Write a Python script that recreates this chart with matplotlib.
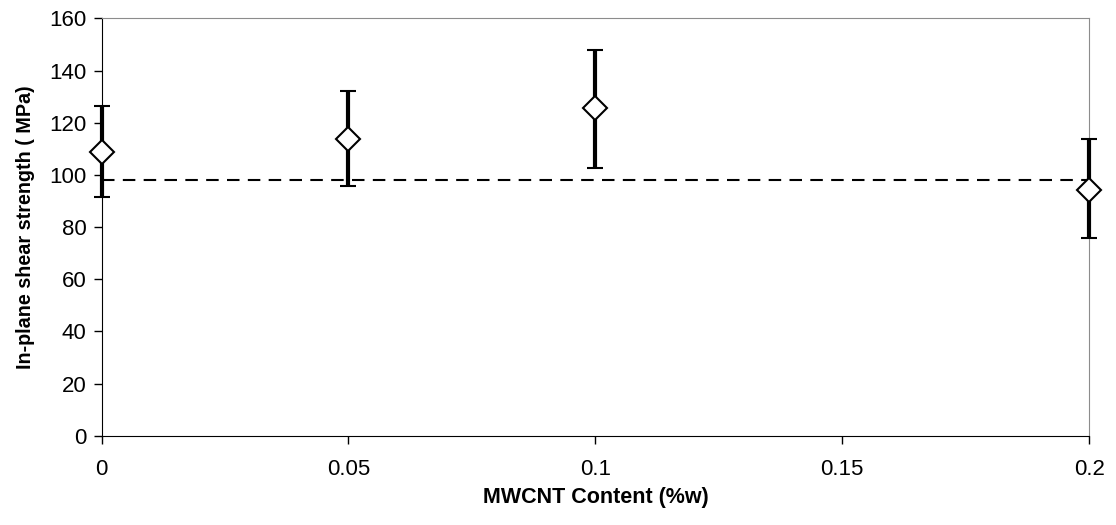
import matplotlib.pyplot as plt

plt.rcParams['font.family'] = ['Liberation Sans', 'DejaVu Sans']

# data
mwcnt = [0, 0.05, 0.1, 0.2]
strength = [108.9, 113.8, 125.8, 94.3]
err_hi = [126.5, 132.0, 148.0, 113.8]
err_lo = [91.7, 95.8, 102.8, 75.7]
baseline = 98.0
x_ticks = [0, 0.05, 0.1, 0.15, 0.2]
x_labels = ['0', '0.05', '0.1', '0.15', '0.2']
y_ticks = [0, 20, 40, 60, 80, 100, 120, 140, 160]

yerr = [[s - lo for s, lo in zip(strength, err_lo)],
        [hi - s for s, hi in zip(strength, err_hi)]]

fig = plt.figure(figsize=(11.16, 5.25), dpi=100)
ax = fig.add_axes([0.091, 0.17, 0.885, 0.795])

ax.axhline(baseline, color='black', lw=1.5, ls=(0, (6, 4)), zorder=1)

eb = ax.errorbar(mwcnt, strength, yerr=yerr, fmt='D', ms=12,
                 mfc='white', mec='black', mew=1.5, ecolor='black',
                 elinewidth=3, capsize=6, capthick=3, zorder=3)
for art in eb.lines[1] + eb.lines[2] + (eb.lines[0],):
    art.set_clip_on(False)

ax.set_xlim(0, 0.2)
ax.set_ylim(0, 160)
ax.set_xticks(x_ticks)
ax.set_xticklabels(x_labels)
ax.set_yticks(y_ticks)
ax.tick_params(axis='both', labelsize=16, direction='out', length=6, width=1)
ax.tick_params(axis='x', pad=11)
ax.tick_params(axis='y', pad=5)

for side in ['top', 'right']:
    ax.spines[side].set_color('#8c8c8c')
for side in ['left', 'bottom']:
    ax.spines[side].set_color('black')

ax.set_xlabel('MWCNT Content (%w)', fontsize=15.5, fontweight='bold', labelpad=5)
ax.set_ylabel('In-plane shear strength ( MPa)', fontsize=14.2, fontweight='bold', labelpad=10)

plt.savefig('out.png', dpi=100)
